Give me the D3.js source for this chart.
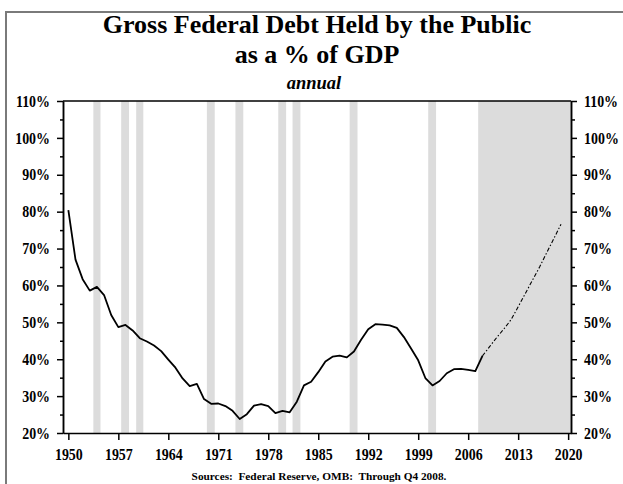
<!DOCTYPE html>
<html>
<head>
<meta charset="utf-8">
<script src="https://cdn.jsdelivr.net/npm/d3@7"></script>
<style>
  body { margin: 0; background: #fff; }
  svg { display: block; font-family: "Liberation Serif", "Times New Roman", serif; }
  .axis { font-family: "Liberation Serif", "Times New Roman", serif; }
  .axis path, .axis line { stroke: #000; stroke-width: 1.5; }
  .axis text { font-size: 16px; font-weight: bold; fill: #000; }
</style>
</head>
<body>
<div id="chart"></div>
<script>
// annual debt held by the public, % of GDP
var years = d3.range(1950, 2009);
var debt = [80.4, 67.0, 61.7, 58.6, 59.6, 57.4, 52.0, 48.7, 49.3, 47.8,
            45.7, 44.8, 43.7, 42.2, 39.9, 37.7, 34.8, 32.7, 33.3, 29.2,
            27.9, 28.0, 27.3, 26.0, 23.8, 25.1, 27.4, 27.8, 27.3, 25.4,
            26.0, 25.6, 28.5, 32.9, 33.9, 36.5, 39.4, 40.7, 41.0, 40.5,
            42.1, 45.3, 48.1, 49.5, 49.4, 49.2, 48.5, 46.0, 42.9, 39.7,
            34.9, 32.9, 34.1, 36.2, 37.3, 37.4, 37.1, 36.8, 40.9];

// OMB projection
var projYears = d3.range(2008, 2020);
var projDebt = [40.9, 43.4, 45.9, 48.2, 50.7, 54.2, 57.8, 61.4, 65.0, 68.9, 72.7, 76.6];

// recession shading [start, end]
var recessions = [[1953.5, 1954.5], [1957.4, 1958.5], [1959.5, 1960.5], [1969.4, 1970.5],
                  [1973.4, 1974.5], [1979.4, 1980.5], [1981.4, 1982.5], [1989.4, 1990.5],
                  [2000.4, 2001.5]];
var forecastStart = 2007.4;

var xTicks = [1950, 1957, 1964, 1971, 1978, 1985, 1992, 1999, 2006, 2013, 2020];
var yTicks = d3.range(20, 111, 10);
var yMinor = d3.range(25, 110, 10);

var W = 623, H = 484;
var pLeft = 63, pRight = 571, pTop = 101, pBottom = 433;

var svg = d3.select("#chart").append("svg")
    .attr("width", W)
    .attr("height", H);

// outer frame
svg.append("rect")
    .attr("x", 6).attr("y", 12)
    .attr("width", 630).attr("height", 490)
    .attr("fill", "none")
    .attr("stroke", "#7a7a7a")
    .attr("stroke-width", 2);

var x = d3.scaleLinear().domain([1949.25, 2020.4]).range([pLeft, pRight]);
var y = d3.scaleLinear().domain([20, 110]).range([pBottom, pTop]);

// shading
svg.selectAll("rect.rec")
    .data(recessions)
  .enter().append("rect")
    .attr("class", "rec")
    .attr("x", function(d) { return x(d[0]); })
    .attr("y", pTop)
    .attr("width", function(d) { return x(d[1]) - x(d[0]); })
    .attr("height", pBottom - pTop)
    .attr("fill", "#dcdcdc");

svg.append("rect")
    .attr("x", x(forecastStart))
    .attr("y", pTop)
    .attr("width", pRight - x(forecastStart))
    .attr("height", pBottom - pTop)
    .attr("fill", "#dcdcdc");

// lines
var line = d3.line()
    .x(function(d) { return x(d[0]); })
    .y(function(d) { return y(d[1]); });

svg.append("path")
    .datum(d3.zip(years, debt))
    .attr("d", line)
    .attr("fill", "none")
    .attr("stroke", "#000")
    .attr("stroke-width", 1.8)
    .attr("stroke-linejoin", "round");

svg.append("path")
    .datum(d3.zip(projYears, projDebt))
    .attr("d", line)
    .attr("fill", "none")
    .attr("stroke", "#000")
    .attr("stroke-width", 1.1)
    .attr("stroke-dasharray", "4,2,1.5,2");

// top border of the plot
svg.append("line")
    .attr("x1", pLeft).attr("x2", pRight)
    .attr("y1", pTop).attr("y2", pTop)
    .attr("stroke", "#000").attr("stroke-width", 1.5);

// axes
svg.append("g")
    .attr("class", "axis")
    .attr("transform", "translate(" + pLeft + ",0)")
    .call(d3.axisLeft(y).tickValues(yTicks).tickSize(6).tickSizeOuter(0).tickPadding(7)
        .tickFormat(function(d) { return d + "%"; }));
svg.append("g")
    .attr("class", "axis")
    .attr("transform", "translate(" + pLeft + ",0)")
    .call(d3.axisLeft(y).tickValues(yMinor).tickSize(3).tickSizeOuter(0).tickFormat(""));

svg.append("g")
    .attr("class", "axis")
    .attr("transform", "translate(" + pRight + ",0)")
    .call(d3.axisRight(y).tickValues(yTicks).tickSize(6).tickSizeOuter(0).tickPadding(7)
        .tickFormat(function(d) { return d + "%"; }));
svg.append("g")
    .attr("class", "axis")
    .attr("transform", "translate(" + pRight + ",0)")
    .call(d3.axisRight(y).tickValues(yMinor).tickSize(4).tickSizeOuter(0).tickFormat(""));

svg.append("g")
    .attr("class", "axis")
    .attr("transform", "translate(0," + pBottom + ")")
    .call(d3.axisBottom(x).tickValues(xTicks).tickSize(7).tickSizeOuter(0).tickPadding(9)
        .tickFormat(d3.format("d")));

// narrow the tick labels a bit, the original face is condensed
svg.selectAll(".axis text")
    .attr("lengthAdjust", "spacingAndGlyphs")
    .attr("textLength", function() { return this.getComputedTextLength() * 0.87; });

// titles
svg.append("text")
    .attr("x", 317).attr("y", 33)
    .attr("text-anchor", "middle")
    .style("font-size", "26px").style("font-weight", "bold")
    .text("Gross Federal Debt Held by the Public");

svg.append("text")
    .attr("x", 317).attr("y", 63)
    .attr("text-anchor", "middle")
    .style("font-size", "26px").style("font-weight", "bold")
    .text("as a % of GDP");

svg.append("text")
    .attr("x", 314).attr("y", 89)
    .attr("text-anchor", "middle")
    .style("font-size", "18.5px").style("font-weight", "bold").style("font-style", "italic")
    .text("annual");

svg.append("text")
    .attr("x", 319).attr("y", 480)
    .attr("text-anchor", "middle")
    .style("font-size", "11.3px").style("font-weight", "bold")
    .style("white-space", "pre")
    .text("Sources:  Federal Reserve, OMB:  Through Q4 2008.");
</script>
</body>
</html>
